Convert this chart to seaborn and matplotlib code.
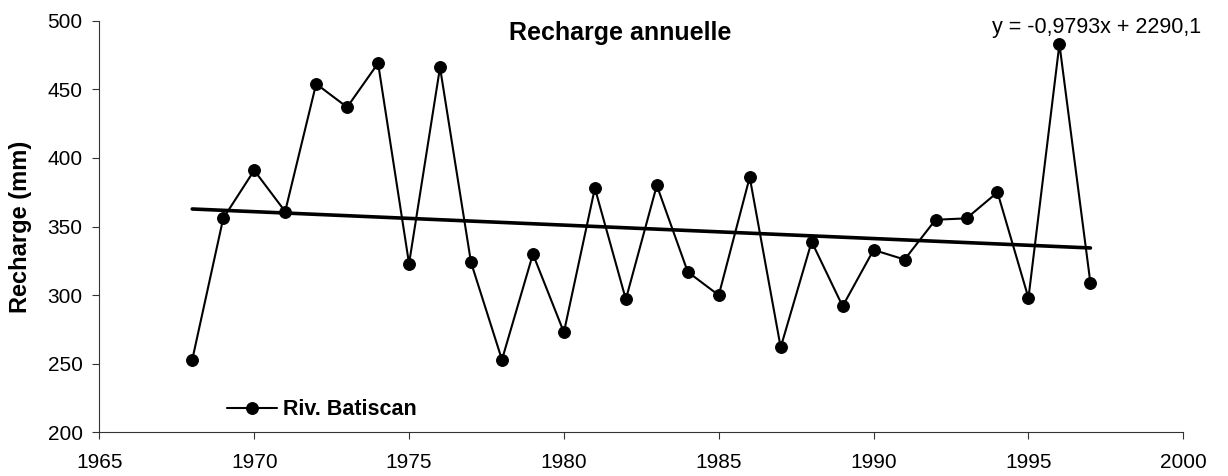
import numpy as np
import pandas as pd
import matplotlib
matplotlib.use("Agg")
import matplotlib.pyplot as plt
import seaborn as sns

# Annual recharge, Batiscan river
years = list(range(1968, 1998))
recharge = [253, 356, 391, 361, 454, 437, 469, 323, 466, 324,
            253, 330, 273, 378, 297, 380, 317, 300, 386, 262,
            339, 292, 333, 326, 355, 356, 375, 298, 483, 309]

# Linear trend coefficients
slope = -0.9793
intercept = 2290.1

series_name = "Riv. Batiscan"
title_text = "Recharge annuelle"
y_label = "Recharge (mm)"
eq_text = "y = -0,9793x + 2290,1"
x_ticks = [1965, 1970, 1975, 1980, 1985, 1990, 1995, 2000]
y_ticks = [200, 250, 300, 350, 400, 450, 500]

sns.set_theme(style="ticks")
plt.rcParams["font.family"] = ["Liberation Sans", "DejaVu Sans"]

df = pd.DataFrame({"year": years, "recharge": recharge, "serie": series_name})
trend_x = np.array([years[0], years[-1]], dtype=float)
trend = pd.DataFrame({"year": trend_x, "recharge": slope * trend_x + intercept})

fig = plt.figure(figsize=(12.28, 4.76), dpi=100)
ax = fig.add_axes([0.0809, 0.0914, 0.8827, 0.8651])

sns.lineplot(data=trend, x="year", y="recharge", ax=ax, color="black",
             linewidth=2.6, legend=False)
sns.lineplot(data=df, x="year", y="recharge", ax=ax, color="black",
             linewidth=1.5, marker="o", markersize=8.5, markeredgecolor="black",
             label=series_name)

ax.set_xlim(1965, 2000)
ax.set_ylim(200, 500)
ax.set_xticks(x_ticks)
ax.set_yticks(y_ticks)
ax.tick_params(axis="both", labelsize=15, length=5, width=0.8, color="#333333",
               labelcolor="black", direction="out", pad=7)
ax.tick_params(axis="x", pad=10)
for s in ["top", "right"]:
    ax.spines[s].set_visible(False)
for s in ["left", "bottom"]:
    ax.spines[s].set_linewidth(0.8)
    ax.spines[s].set_color("#333333")

ax.set_xlabel("")
ax.set_ylabel(y_label, fontsize=17, fontweight="bold", labelpad=11, color="black")

fig.text(620 / 1228, 1 - 33 / 476, title_text, ha="center", va="center",
         fontsize=18, fontweight="bold", color="black")
fig.text(992 / 1228, 1 - 27 / 476, eq_text, ha="left", va="center",
         fontsize=15.5, color="black")

leg = ax.legend(loc="center left", bbox_to_anchor=(0.118, 0.055), frameon=False,
                borderpad=0, borderaxespad=0, handlelength=2.3, handletextpad=0.3,
                prop={"size": 15.5, "weight": "bold"})
for t in leg.get_texts():
    t.set_color("black")

fig.savefig("out.png", dpi=100)
